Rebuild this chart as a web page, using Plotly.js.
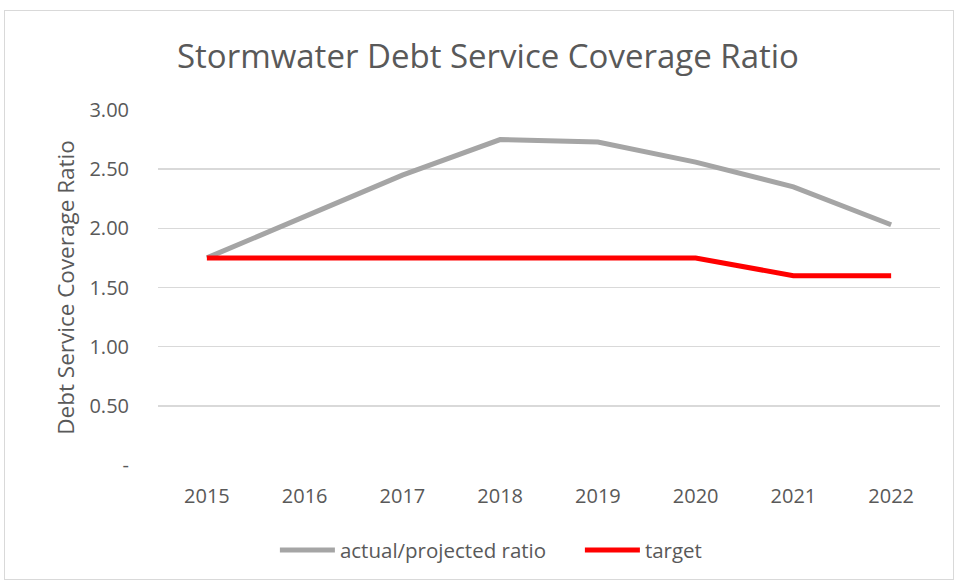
<!DOCTYPE html>
<html>
<head>
<meta charset="utf-8">
<script src="https://cdn.plot.ly/plotly-3.0.1.min.js"></script>
<style>
  html, body { margin: 0; padding: 0; background: #ffffff; }
  #chart { position: absolute; left: 4px; top: 10px; width: 950px; height: 570px; box-sizing: border-box; border: 1.5px solid #d9d9d9; }
</style>
</head>
<body>
<div id="chart"></div>
<script>
const years = ["2015", "2016", "2017", "2018", "2019", "2020", "2021", "2022"];
const actualRatio = [1.75, 2.10, 2.45, 2.75, 2.73, 2.56, 2.35, 2.03];
const targetRatio = [1.75, 1.75, 1.75, 1.75, 1.75, 1.75, 1.60, 1.60];
const yTickVals = [0, 0.5, 1.0, 1.5, 2.0, 2.5, 3.0];
const yTickText = ["-", "0.50", "1.00", "1.50", "2.00", "2.50", "3.00"];

const fontFam = "'Open Sans', sans-serif";
const textCol = "#595959";

const traces = [
  { x: years, y: actualRatio, type: "scatter", mode: "lines", name: "actual/projected ratio",
    line: { color: "#a5a5a5", width: 5 } },
  { x: years, y: targetRatio, type: "scatter", mode: "lines", name: "target",
    line: { color: "#ff0000", width: 5 } }
];

const layout = {
  width: 947, height: 567,
  paper_bgcolor: "#ffffff", plot_bgcolor: "#ffffff",
  margin: { l: 153, r: 12, t: 99, b: 113 },
  font: { family: fontFam, color: textCol },
  title: { text: "Stormwater Debt Service Coverage Ratio", font: { size: 33, color: textCol, family: fontFam },
    x: 0.51, xanchor: "center", y: 0.92, yanchor: "middle" },
  xaxis: { type: "category", range: [-0.5, 7.5], showgrid: false, zeroline: false, showline: false,
    ticks: "outside", ticklen: 13, tickcolor: "rgba(0,0,0,0)", tickfont: { size: 20, color: textCol } },
  yaxis: { range: [0, 3], tickvals: yTickVals, ticktext: yTickText, showgrid: true, gridcolor: "#d9d9d9", gridwidth: 1.5,
    zeroline: false, showline: false, ticks: "outside", ticklen: 24, tickcolor: "rgba(0,0,0,0)",
    tickfont: { size: 20, color: textCol },
    title: { text: "Debt Service Coverage Ratio", font: { size: 22.5, color: textCol }, standoff: 8 } },
  showlegend: true,
  legend: { orientation: "h", xref: "container", yref: "container", x: 0.285, xanchor: "left", y: 0.049, yanchor: "middle",
    font: { size: 20.5, color: textCol }, itemwidth: 55, entrywidth: 235, tracegroupgap: 0 }
};

Plotly.newPlot("chart", traces, layout, { displayModeBar: false, staticPlot: true });
</script>
</body>
</html>
